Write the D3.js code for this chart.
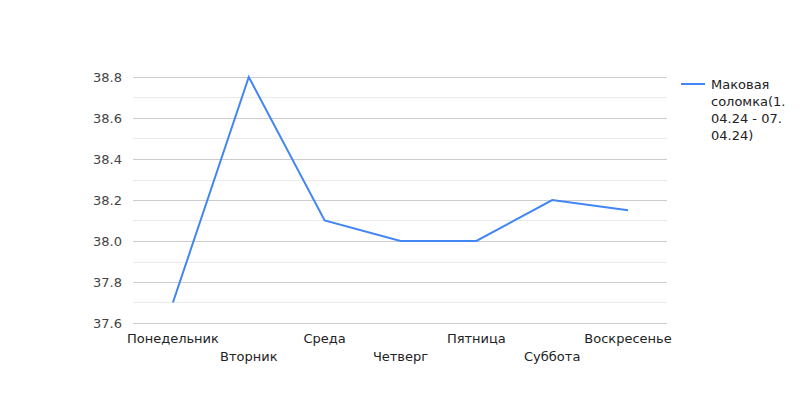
<!DOCTYPE html>
<html>
<head>
<meta charset="utf-8">
<script src="https://cdn.jsdelivr.net/npm/d3@7"></script>
<style>
  body { margin: 0; background: #fff; }
  text { font-family: "DejaVu Sans", sans-serif; }
</style>
</head>
<body>
<div id="chart"></div>
<script>
var days = ["Понедельник", "Вторник", "Среда", "Четверг", "Пятница", "Суббота", "Воскресенье"];
var values = [37.7, 38.8, 38.1, 38.0, 38.0, 38.2, 38.15];
var yTicks = [37.6, 37.8, 38.0, 38.2, 38.4, 38.6, 38.8];
var minorTicks = [37.7, 37.9, 38.1, 38.3, 38.5, 38.7];
var legendLines = ["Маковая", "соломка(1.", "04.24 - 07.", "04.24)"];

var svg = d3.select("#chart").append("svg")
    .attr("width", 800)
    .attr("height", 400);

var x = d3.scaleBand().domain(days).range([135, 666]);
var y = d3.scaleLinear().domain([37.6, 38.8]).range([323, 77]);

// minor gridlines
svg.append("g").selectAll("line")
    .data(minorTicks)
    .enter().append("line")
    .attr("x1", 133).attr("x2", 667)
    .attr("y1", function(d) { return Math.round(y(d)) + 0.5; })
    .attr("y2", function(d) { return Math.round(y(d)) + 0.5; })
    .attr("stroke", "#ebebeb");

// major gridlines
svg.append("g").selectAll("line")
    .data(yTicks)
    .enter().append("line")
    .attr("x1", 133).attr("x2", 667)
    .attr("y1", function(d) { return Math.round(y(d)) + 0.5; })
    .attr("y2", function(d) { return Math.round(y(d)) + 0.5; })
    .attr("stroke", "#cccccc");

// y labels
svg.append("g").selectAll("text")
    .data(yTicks)
    .enter().append("text")
    .attr("x", 122)
    .attr("y", function(d) { return y(d) + 5; })
    .attr("text-anchor", "end")
    .attr("font-size", 13)
    .attr("fill", "#444")
    .text(function(d) { return d3.format(".1f")(d); });

// x labels, alternating rows
svg.append("g").selectAll("text")
    .data(days)
    .enter().append("text")
    .attr("x", function(d) { return x(d) + x.bandwidth() / 2; })
    .attr("y", function(d, i) { return i % 2 == 0 ? 343 : 361; })
    .attr("text-anchor", "middle")
    .attr("font-size", 13)
    .attr("fill", "#222")
    .text(function(d) { return d; });

// series line
var line = d3.line()
    .x(function(d, i) { return x(days[i]) + x.bandwidth() / 2; })
    .y(function(d) { return y(d); });

svg.append("path")
    .datum(values)
    .attr("d", line)
    .attr("fill", "none")
    .attr("stroke", "#4285f4")
    .attr("stroke-width", 2);

// legend
svg.append("line")
    .attr("x1", 681).attr("x2", 705)
    .attr("y1", 84).attr("y2", 84)
    .attr("stroke", "#4285f4")
    .attr("stroke-width", 2);

svg.append("g").selectAll("text")
    .data(legendLines)
    .enter().append("text")
    .attr("x", 711)
    .attr("y", function(d, i) { return 89 + i * 17; })
    .attr("font-size", 13)
    .attr("fill", "#222")
    .text(function(d) { return d; });
</script>
</body>
</html>
